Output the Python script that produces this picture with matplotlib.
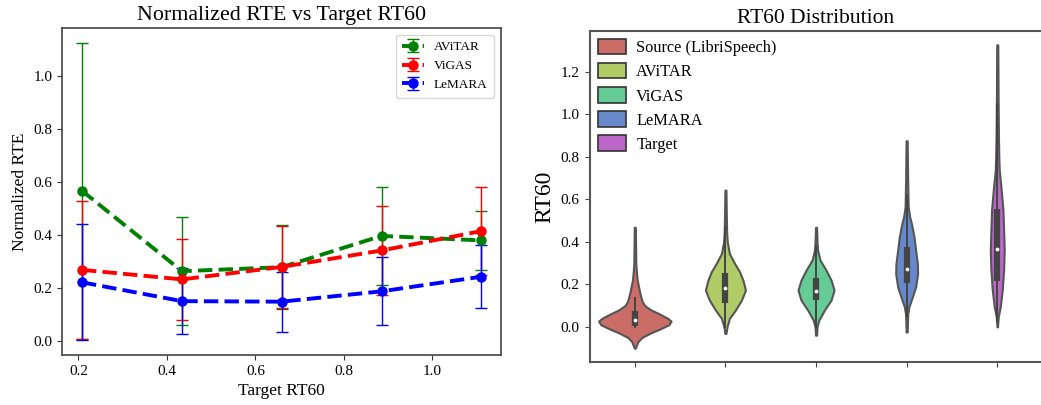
import matplotlib
matplotlib.use("Agg")
import matplotlib.pyplot as plt
from matplotlib.patches import Patch

plt.rcParams["font.family"] = ["Liberation Serif", "DejaVu Serif"]

# ---- left panel: normalized RTE per target RT60 bin ----
target_rt60 = [0.208, 0.434, 0.659, 0.885, 1.110]

avitar_rte = [0.566, 0.263, 0.278, 0.396, 0.379]
avitar_err = [0.558, 0.203, 0.158, 0.185, 0.112]

vigas_rte = [0.268, 0.232, 0.279, 0.341, 0.414]
vigas_err = [0.260, 0.154, 0.153, 0.168, 0.166]

lemara_rte = [0.221, 0.150, 0.148, 0.187, 0.242]
lemara_err = [0.218, 0.124, 0.113, 0.128, 0.118]

methods = ["AViTAR", "ViGAS", "LeMARA"]
method_colors = ["green", "red", "blue"]

# ---- right panel: RT60 distributions (violin outlines) ----
groups = ["Source (LibriSpeech)", "AViTAR", "ViGAS", "LeMARA", "Target"]
group_colors = ["#cb6d67", "#b1cb67", "#67cb95", "#6789cb", "#bd67cb"]

# RT60 levels and violin half-widths (category units) at those levels
source_rt = [0.468, 0.40, 0.30, 0.26, 0.22, 0.20, 0.16, 0.12, 0.10, 0.08, 0.06, 0.04,
             0.027, 0.01, -0.01, -0.03, -0.05, -0.07, -0.10]
source_hw = [0.006, 0.008, 0.011, 0.017, 0.026, 0.036, 0.055, 0.08, 0.11, 0.177, 0.276,
             0.364, 0.40, 0.375, 0.276, 0.166, 0.077, 0.033, 0.006]
avitar_rt = [0.643, 0.55, 0.45, 0.40, 0.345, 0.30, 0.26, 0.22, 0.173, 0.126, 0.079, 0.04, 0.0, -0.031]
avitar_hw = [0.006, 0.009, 0.013, 0.02, 0.044, 0.099, 0.155, 0.193, 0.221, 0.177, 0.11, 0.044, 0.017, 0.006]
vigas_rt = [0.468, 0.40, 0.361, 0.314, 0.267, 0.22, 0.173, 0.126, 0.079, 0.031, 0.0, -0.039]
vigas_hw = [0.006, 0.011, 0.017, 0.044, 0.11, 0.166, 0.199, 0.166, 0.092, 0.03, 0.011, 0.006]
lemara_rt = [0.875, 0.70, 0.565, 0.518, 0.487, 0.424, 0.361, 0.298, 0.251, 0.188, 0.141, 0.094,
             0.063, 0.02, -0.024]
lemara_hw = [0.006, 0.011, 0.017, 0.033, 0.052, 0.081, 0.099, 0.118, 0.121, 0.099, 0.063, 0.025,
             0.013, 0.009, 0.006]
target_rt = [1.326, 1.10, 0.90, 0.80, 0.737, 0.643, 0.549, 0.455, 0.361, 0.267, 0.173, 0.094, 0.047, 0.0]
target_hw = [0.006, 0.009, 0.013, 0.017, 0.022, 0.044, 0.063, 0.07, 0.077, 0.07, 0.055, 0.033, 0.011, 0.003]

# box stats: q1, q3, median, whisker low, whisker high
box_q1 = [0.005, 0.110, 0.126, 0.207, 0.217]
box_q3 = [0.075, 0.254, 0.228, 0.374, 0.553]
box_med = [0.032, 0.181, 0.168, 0.270, 0.366]
whis_lo = [0.000, 0.000, 0.000, 0.050, 0.030]
whis_hi = [0.135, 0.470, 0.380, 0.620, 1.050]

fig = plt.figure(figsize=(10.41, 4.05), dpi=100)
ax1 = fig.add_axes([0.0596, 0.1235, 0.4217, 0.8074])
ax2 = fig.add_axes([0.5663, 0.1062, 0.4352, 0.8173])

# left panel
for name, ys, es, c in zip(methods, [avitar_rte, vigas_rte, lemara_rte],
                           [avitar_err, vigas_err, lemara_err], method_colors):
    ax1.errorbar(target_rt60, ys, yerr=es, color=c, fmt="o--", lw=2.8, ms=6.5,
                 elinewidth=1.0, capsize=4, capthick=1.0, label=name)

ax1.set_title("Normalized RTE vs Target RT60", fontsize=15.8)
ax1.set_xlabel("Target RT60", fontsize=12.5)
ax1.set_ylabel("Normalized RTE", fontsize=12.5)
ax1.set_xticks([0.2, 0.4, 0.6, 0.8, 1.0])
ax1.set_yticks([0.0, 0.2, 0.4, 0.6, 0.8, 1.0])
ax1.tick_params(labelsize=11, color="#333333")
for s in ax1.spines.values():
    s.set_color("#444444")
    s.set_linewidth(1.2)
ax1.legend(loc="upper right", fontsize=9.5, handlelength=1.6, borderpad=0.5)

# right panel
profiles = [(source_rt, source_hw), (avitar_rt, avitar_hw), (vigas_rt, vigas_hw),
            (lemara_rt, lemara_hw), (target_rt, target_hw)]
for i, ((rt, hw), c) in enumerate(zip(profiles, group_colors)):
    left = [i - w for w in hw]
    right = [i + w for w in hw]
    ax2.fill_betweenx(rt, left, right, facecolor=c, edgecolor="#555555", lw=1.5, zorder=2)
    ax2.plot([i, i], [whis_lo[i], whis_hi[i]], color="#444444", lw=1.4, zorder=3)
    ax2.plot([i, i], [box_q1[i], box_q3[i]], color="#444444", lw=4.5,
             solid_capstyle="butt", zorder=4)
    ax2.scatter([i], [box_med[i]], s=3, color="white", zorder=5)

ax2.set_xlim(-0.5, 4.5)
ax2.set_ylim(-0.165, 1.391)
ax2.set_xticks(range(len(groups)))
ax2.set_xticklabels([])
ax2.set_yticks([0.0, 0.2, 0.4, 0.6, 0.8, 1.0, 1.2])
ax2.tick_params(labelsize=11, color="#444444")
ax2.set_title("RT60 Distribution", fontsize=15.5)
ax2.set_ylabel("RT60", fontsize=17)
for s in ax2.spines.values():
    s.set_color("#555555")
    s.set_linewidth(1.5)

handles = [Patch(facecolor=c, edgecolor="#333333", lw=1.2) for c in group_colors]
ax2.legend(handles, groups, loc="upper left", fontsize=11.8, frameon=False,
           handlelength=1.75, handleheight=1.05, handletextpad=0.6,
           labelspacing=0.42, borderaxespad=0.1)

fig.savefig("out.png", dpi=100)
